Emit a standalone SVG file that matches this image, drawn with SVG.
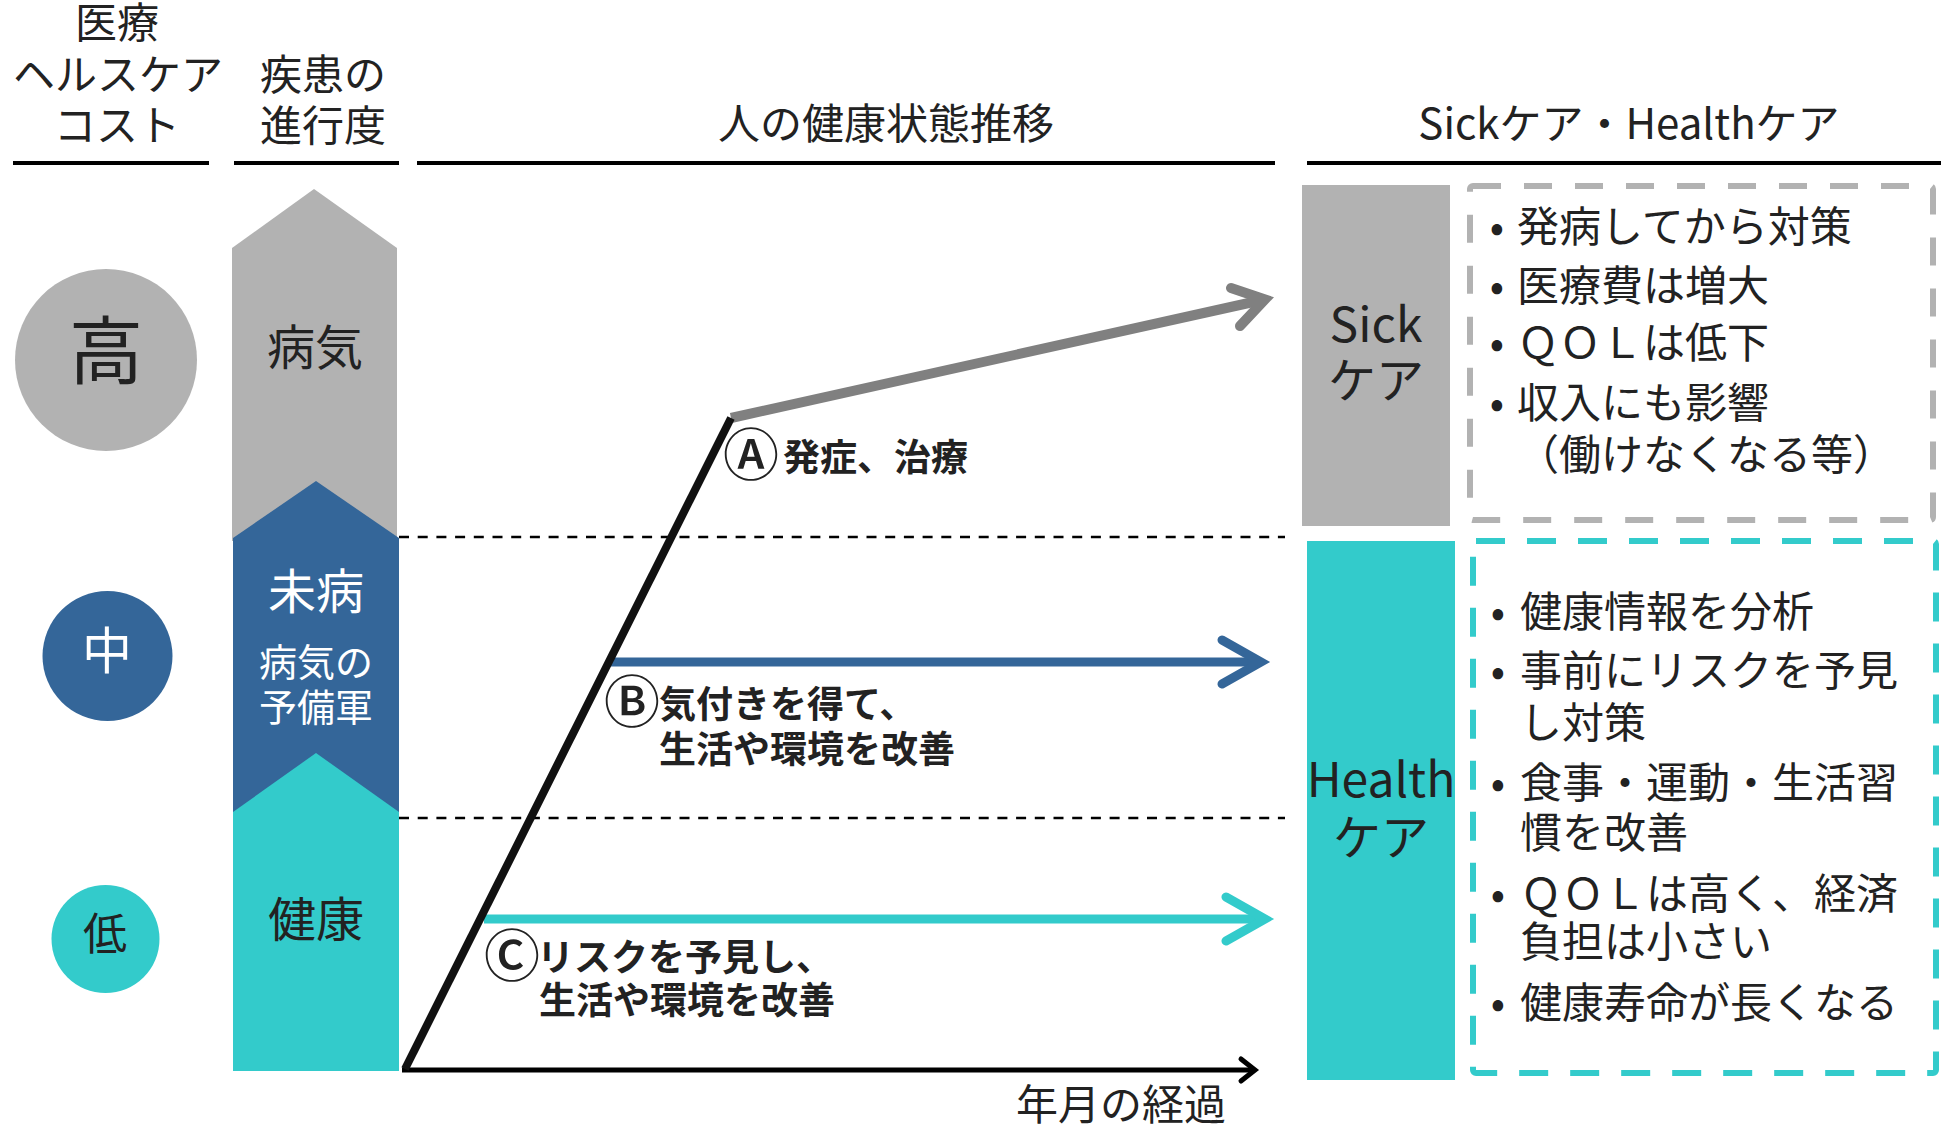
<svg xmlns="http://www.w3.org/2000/svg" width="1949" height="1124" viewBox="0 0 1949 1124">
<style>
text { font-family: "Noto Sans CJK JP", "Noto Sans", sans-serif; fill: #222; }
.h { font-size: 42px; text-anchor: middle; }
.b { font-size: 42px; }
.dot { font-size: 42px; text-anchor: middle; }
.lbl { font-size: 37px; font-weight: 700; }
.circ { font-size: 56px; text-anchor: middle; font-weight: 500; }
.stage { font-size: 48px; text-anchor: middle; }
.care { font-size: 48px; text-anchor: middle; }
.w { fill: #fff; }
.hdr { stroke: #000; stroke-width: 4; }
.dash { stroke: #000; stroke-width: 2.5; stroke-dasharray: 10 8.7; }
.arr { fill: none; stroke-linecap: round; stroke-linejoin: miter; stroke-miterlimit: 10; }
</style>
<rect x="0" y="0" width="1949" height="1124" fill="#fff"/>

<g id="header">
  <text class="h" x="117" y="38">医療</text>
  <text class="h" x="118" y="90">ヘルスケア</text>
  <text class="h" x="117" y="141">コスト</text>
  <text class="h" x="323" y="90">疾患の</text>
  <text class="h" x="323" y="141">進行度</text>
  <text class="h" x="886" y="139">人の健康状態推移</text>
  <text class="h" x="1629" y="139">Sickケア・Healthケア</text>
  <line class="hdr" x1="13" y1="163" x2="209" y2="163"/>
  <line class="hdr" x1="234" y1="163" x2="399" y2="163"/>
  <line class="hdr" x1="417" y1="163" x2="1275" y2="163"/>
  <line class="hdr" x1="1307" y1="163" x2="1941" y2="163"/>
</g>

<g id="cost-high">
  <circle cx="106" cy="360" r="91" fill="#b2b2b2"/>
  <text x="106" y="378" font-size="74" text-anchor="middle">高</text>
</g>
<g id="cost-mid">
  <circle cx="107.5" cy="656" r="65" fill="#346699"/>
  <text class="w" x="107" y="669" font-size="50" text-anchor="middle">中</text>
</g>
<g id="cost-low">
  <circle cx="105.5" cy="939" r="54" fill="#33cbcb"/>
  <text x="105" y="950" font-size="44" text-anchor="middle">低</text>
</g>

<g id="guides">
  <line class="dash" x1="399" y1="537" x2="1285" y2="537"/>
  <line class="dash" x1="399" y1="818" x2="1285" y2="818"/>
</g>

<g id="stage-sick">
  <polygon points="232,248 314,189 397,248 397,541 232,541" fill="#b2b2b2"/>
  <text class="stage" x="315" y="365">病気</text>
</g>
<g id="stage-pre">
  <polygon points="233,538 316,481 399,538 399,812 233,812" fill="#346699"/>
  <text class="stage w" x="316" y="609">未病</text>
  <text class="w" x="316" y="676" font-size="38" text-anchor="middle">病気の</text>
  <text class="w" x="316" y="721" font-size="38" text-anchor="middle">予備軍</text>
</g>
<g id="stage-healthy">
  <polygon points="233,812 316,753 399,812 399,1071 233,1071" fill="#33cbcb"/>
  <text class="stage" x="316" y="937">健康</text>
</g>

<g id="connectors">
  <line x1="402" y1="1070" x2="1254" y2="1070" stroke="#000" stroke-width="5"/>
  <path class="arr" d="M1241,1059 L1255,1070 L1241,1081" stroke="#000" stroke-width="5"/>
  <line x1="731" y1="418" x2="1260" y2="300.5" stroke="#808080" stroke-width="10"/>
  <path class="arr" d="M1231,288 L1265,299.5 L1240,326" stroke="#808080" stroke-width="10"/>
  <line x1="609" y1="662" x2="1258" y2="662" stroke="#346699" stroke-width="9"/>
  <path class="arr" d="M1222,640 L1261,662 L1222,684" stroke="#346699" stroke-width="9"/>
  <line x1="484" y1="919" x2="1262" y2="919" stroke="#33cbcb" stroke-width="9"/>
  <path class="arr" d="M1226,897 L1265,919 L1226,941" stroke="#33cbcb" stroke-width="9"/>
  <line x1="405" y1="1069" x2="731" y2="418" stroke="#111" stroke-width="8"/>
</g>

<g id="label-a">
  <text class="circ" x="751" y="475">Ⓐ</text>
  <text class="lbl" x="783" y="471">発症、治療</text>
</g>
<g id="label-b">
  <text class="circ" x="632" y="722">Ⓑ</text>
  <text class="lbl" x="659" y="718">気付きを得て、</text>
  <text class="lbl" x="659" y="763">生活や環境を改善</text>
</g>
<g id="label-c">
  <text class="circ" x="512" y="976">Ⓒ</text>
  <text class="lbl" x="537" y="971">リスクを予見し、</text>
  <text class="lbl" x="539" y="1014">生活や環境を改善</text>
</g>
<g id="time-axis-label">
  <text class="b" x="1016" y="1120">年月の経過</text>
</g>

<g id="sick-care">
  <rect x="1302" y="185" width="148" height="341" fill="#b2b2b2"/>
  <text class="care" x="1376" y="342">Sick</text>
  <text class="care" x="1376" y="398">ケア</text>
</g>
<g id="sick-notes">
  <rect x="1470" y="186" width="463" height="334" rx="3" fill="none" stroke="#b2b2b2" stroke-width="6" stroke-dasharray="28 23"/>
  <text class="dot" x="1497" y="242">•</text>
  <text class="b" x="1517" y="242">発病してから対策</text>
  <text class="dot" x="1497" y="301">•</text>
  <text class="b" x="1517" y="301">医療費は増大</text>
  <text class="dot" x="1497" y="358">•</text>
  <text class="b" x="1517" y="358">ＱＯＬは低下</text>
  <text class="dot" x="1497" y="418">•</text>
  <text class="b" x="1517" y="418">収入にも影響</text>
  <text class="b" x="1517" y="470">（働けなくなる等）</text>
</g>

<g id="health-care">
  <rect x="1307" y="541" width="148" height="539" fill="#33cbcb"/>
  <text class="care" x="1381" y="797">Health</text>
  <text class="care" x="1381" y="855">ケア</text>
</g>
<g id="health-notes">
  <rect x="1473" y="541" width="463" height="532" rx="3" fill="none" stroke="#33cbcb" stroke-width="6" stroke-dasharray="29 22"/>
  <text class="dot" x="1498" y="627">•</text>
  <text class="b" x="1520" y="627">健康情報を分析</text>
  <text class="dot" x="1498" y="686">•</text>
  <text class="b" x="1520" y="686">事前にリスクを予見</text>
  <text class="b" x="1520" y="738">し対策</text>
  <text class="dot" x="1498" y="798">•</text>
  <text class="b" x="1520" y="798">食事・運動・生活習</text>
  <text class="b" x="1520" y="848">慣を改善</text>
  <text class="dot" x="1498" y="909">•</text>
  <text class="b" x="1520" y="909">ＱＯＬは高く、経済</text>
  <text class="b" x="1520" y="957">負担は小さい</text>
  <text class="dot" x="1498" y="1018">•</text>
  <text class="b" x="1520" y="1018">健康寿命が長くなる</text>
</g>
</svg>
